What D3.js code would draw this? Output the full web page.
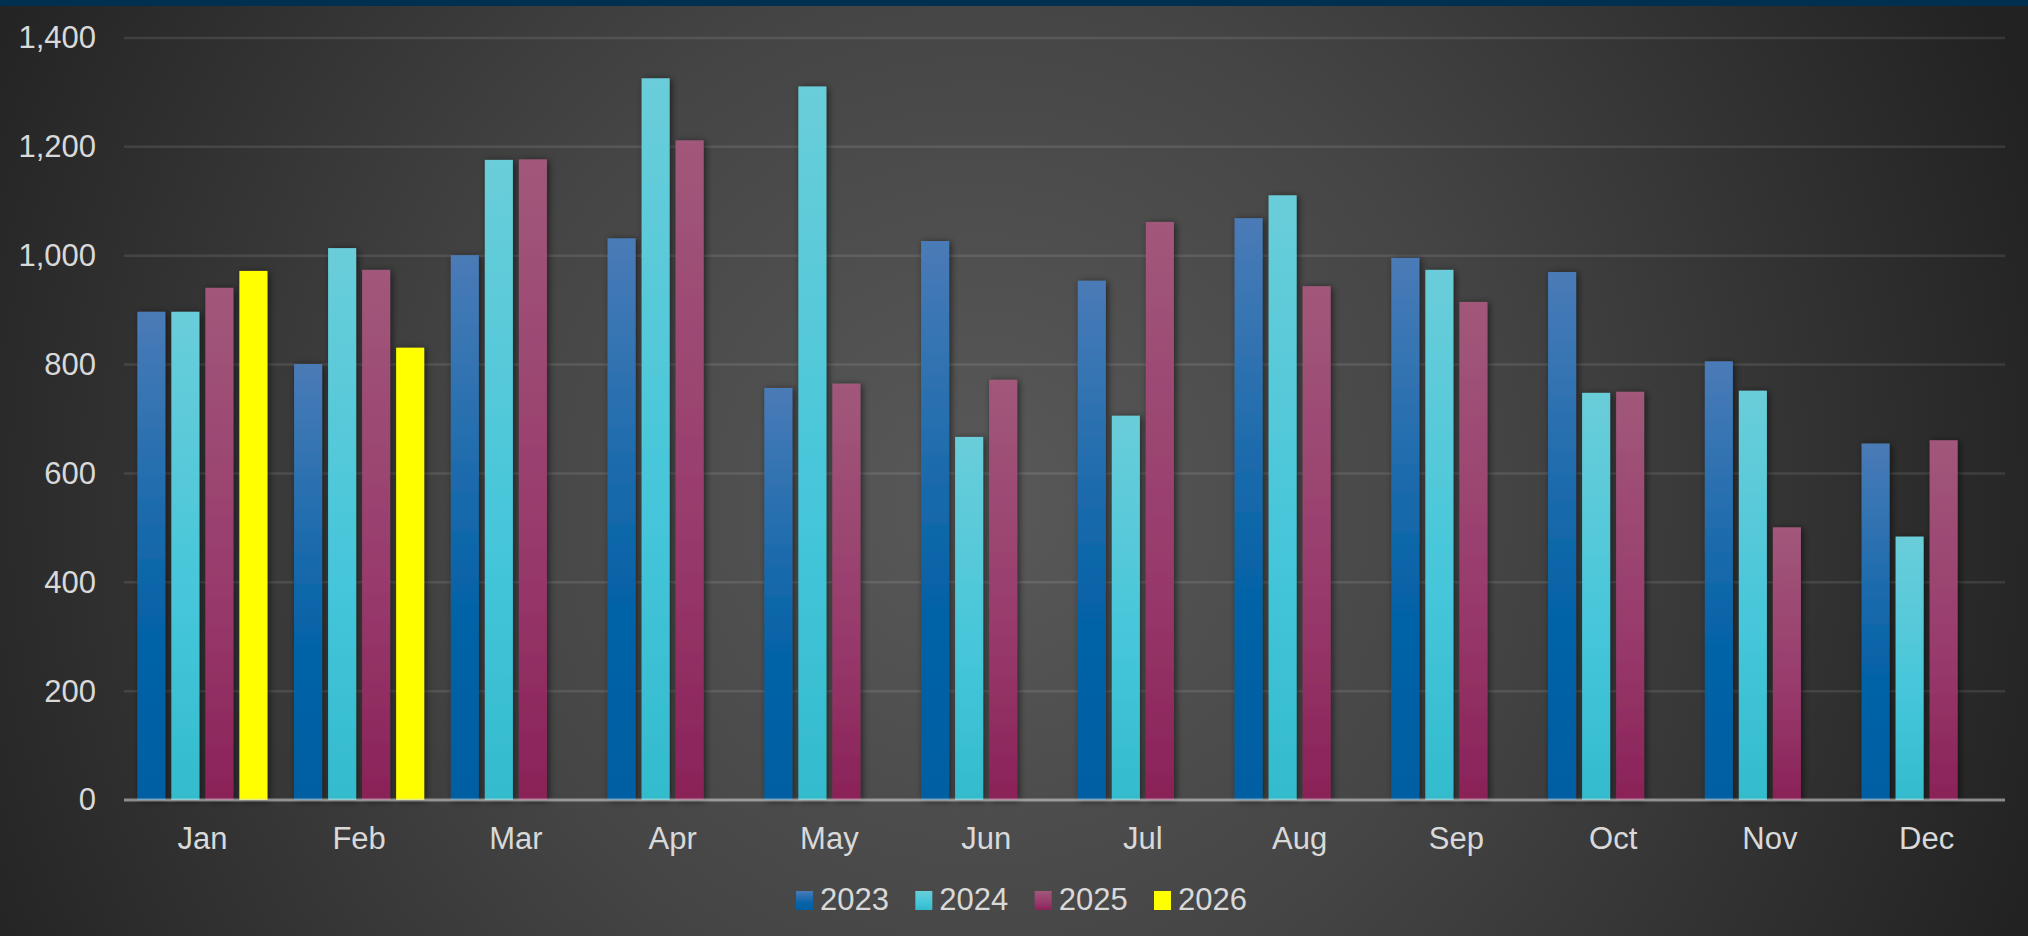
<!DOCTYPE html>
<html>
<head>
<meta charset="utf-8">
<script src="https://cdn.jsdelivr.net/npm/d3@7"></script>
<style>
  html, body { margin: 0; padding: 0; background: #262626; }
  svg { display: block; }
</style>
</head>
<body>
<svg id="chart" width="2028" height="936"></svg>
<script>
const months = ["Jan","Feb","Mar","Apr","May","Jun","Jul","Aug","Sep","Oct","Nov","Dec"];
const seriesNames = ["2023","2024","2025","2026"];
const values2023 = [897, 801, 1001, 1032, 757, 1027, 954, 1069, 996, 970, 806, 655];
const values2024 = [897, 1014, 1176, 1326, 1311, 667, 706, 1111, 974, 748, 752, 484];
const values2025 = [941, 974, 1177, 1212, 765, 772, 1062, 944, 915, 750, 501, 661];
const values2026 = [972, 831, null, null, null, null, null, null, null, null, null, null];
const yTicks = [0, 200, 400, 600, 800, 1000, 1200, 1400];

(function () {
const seriesValues = [values2023, values2024, values2025, values2026];
const gradStops = [
  ["#4a7bb7", "#0764a8", "#005fa2"],
  ["#6acdd9", "#45c6da", "#33bbcd"],
  ["#a1587a", "#983a6c", "#8a2258"],
  ["#ffff00", "#ffff00", "#ffff00"]
];

const W = 2028, H = 936;
const pLeft = 124, pRight = 2005, pTop = 38, pBottom = 800;
const svg = d3.select("#chart");
const defs = svg.append("defs");

// background
const bg = defs.append("radialGradient").attr("id", "bg")
  .attr("gradientUnits", "userSpaceOnUse")
  .attr("cx", 980).attr("cy", 500).attr("r", 1120);
bg.append("stop").attr("offset", 0).attr("stop-color", "#595959");
bg.append("stop").attr("offset", 0.45).attr("stop-color", "#454545");
bg.append("stop").attr("offset", 1).attr("stop-color", "#222222");
svg.append("rect").attr("width", W).attr("height", H).attr("fill", "url(#bg)");
svg.append("rect").attr("width", W).attr("height", 6).attr("fill", "#00304f");

// bar gradients
gradStops.forEach((s, i) => {
  const g = defs.append("linearGradient").attr("id", "g" + i)
    .attr("x1", 0).attr("y1", 0).attr("x2", 0).attr("y2", 1);
  g.append("stop").attr("offset", 0).attr("stop-color", s[0]);
  g.append("stop").attr("offset", 0.6).attr("stop-color", s[1]);
  g.append("stop").attr("offset", 1).attr("stop-color", s[2]);
});
const sh = defs.append("filter").attr("id", "shadow")
  .attr("x", "-50%").attr("y", "-10%").attr("width", "200%").attr("height", "120%");
sh.append("feDropShadow").attr("dx", 2).attr("dy", 1).attr("stdDeviation", 3.5)
  .attr("flood-color", "#000").attr("flood-opacity", 0.55);

const x0 = d3.scaleBand().domain(months).range([pLeft, pRight])
  .paddingInner(0.17).paddingOuter(0.085);
const x1 = d3.scaleBand().domain(seriesNames).range([0, x0.bandwidth()])
  .paddingInner(0.176).paddingOuter(0);
const y = d3.scaleLinear().domain([0, 1400]).range([pBottom, pTop]);

const font = "'Liberation Sans', Arial, sans-serif";
const fs = 31;

// gridlines
svg.append("g").selectAll("line").data(yTicks.filter(d => d > 0)).join("line")
  .attr("x1", pLeft).attr("x2", pRight)
  .attr("y1", d => y(d)).attr("y2", d => y(d))
  .attr("stroke", "rgba(255,255,255,0.1)").attr("stroke-width", 2.5);

// y axis labels
const yAxis = svg.append("g").attr("transform", `translate(${pLeft},0)`)
  .call(d3.axisLeft(y).tickValues(yTicks).tickFormat(d3.format(",")).tickSize(0).tickPadding(28));
yAxis.select(".domain").remove();
yAxis.selectAll("text").attr("fill", "#d9d9d9").attr("font-size", fs).attr("font-family", font);

// bars
const groups = svg.append("g").selectAll("g").data(months).join("g")
  .attr("transform", d => `translate(${x0(d)},0)`);
groups.selectAll("rect").data((m, mi) => seriesNames.map((s, si) => ({s, si, v: seriesValues[si][mi]})).filter(d => d.v != null))
  .join("rect")
  .attr("x", d => x1(d.s))
  .attr("width", x1.bandwidth())
  .attr("y", d => y(d.v))
  .attr("height", d => y(0) - y(d.v))
  .attr("fill", d => `url(#g${d.si})`)
  .attr("filter", "url(#shadow)");

// x axis
const xAxis = svg.append("g").attr("transform", `translate(0,${pBottom})`)
  .call(d3.axisBottom(x0).tickSize(0).tickPadding(27));
xAxis.select(".domain").attr("stroke", "rgba(220,220,220,0.55)").attr("stroke-width", 3)
  .attr("d", `M${pLeft},0H${pRight}`);
xAxis.selectAll("text").attr("fill", "#d9d9d9").attr("font-size", fs).attr("font-family", font);

// legend
const legendX = d3.scalePoint().domain(seriesNames).range([796, 1154]);
const lg = svg.append("g").selectAll("g").data(seriesNames).join("g")
  .attr("transform", d => `translate(${legendX(d)},891)`);
lg.append("rect").attr("width", 17).attr("height", 19).attr("y", 0)
  .attr("fill", (d, i) => `url(#g${i})`);
lg.append("text").attr("x", 24).attr("y", 19).text(d => d)
  .attr("fill", "#d9d9d9").attr("font-size", fs).attr("font-family", font);
})();
</script>
</body>
</html>
